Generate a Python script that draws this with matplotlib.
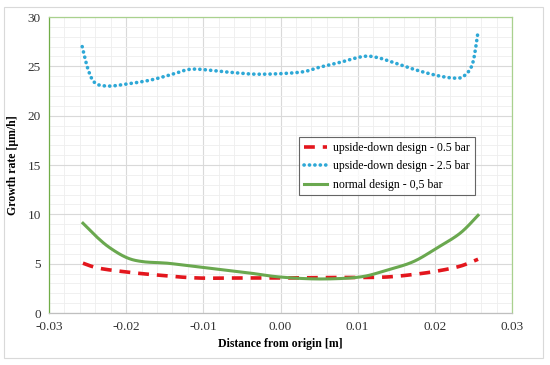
import matplotlib
matplotlib.use("Agg")
import matplotlib.pyplot as plt
import numpy as np
from matplotlib.ticker import MultipleLocator, FormatStrFormatter
from matplotlib.patches import Rectangle

plt.rcParams['font.family'] = ['Liberation Serif', 'DejaVu Serif']

# Data
x_blue = [-0.0257, -0.0249, -0.0240, -0.0223, -0.0200, -0.0169, -0.0140, -0.0117, -0.0090, -0.0066, -0.0027,
          0.0025, 0.0050, 0.0077, 0.0107, 0.0125, 0.0146, 0.0177, 0.0207, 0.0229, 0.0239, 0.0249, 0.0256]
y_blue = [27.0, 24.6, 23.3, 23.0, 23.2, 23.6, 24.2, 24.7, 24.6, 24.4, 24.2,
          24.4, 24.9, 25.4, 26.0, 25.9, 25.4, 24.6, 24.0, 23.8, 24.1, 25.3, 28.5]

x_green = [-0.0256, -0.0238, -0.0221, -0.0199, -0.0178, -0.0147, -0.0121, -0.0104, -0.0040, -0.0001, 0.0051,
           0.0103, 0.0138, 0.0172, 0.0203, 0.0233, 0.0256]
y_green = [9.1, 7.7, 6.6, 5.6, 5.2, 5.05, 4.8, 4.65, 4.05, 3.65, 3.45,
           3.65, 4.35, 5.2, 6.6, 8.1, 9.9]

x_red = [-0.0256, -0.0236, -0.0199, -0.0160, -0.0108, -0.0050, 0.0000, 0.0050, 0.0104, 0.0138, 0.0172,
         0.0203, 0.0233, 0.0256]
y_red = [5.05, 4.55, 4.15, 3.85, 3.55, 3.55, 3.55, 3.6, 3.6, 3.65, 3.9, 4.25, 4.75, 5.45]

labels = ['upside-down design - 0.5 bar', 'upside-down design - 2.5 bar', 'normal design - 0,5 bar']
xlabel = 'Distance from origin [m]'
ylabel = 'Growth rate [µm/h]'


def smooth(x, y):
    x = np.asarray(x); y = np.asarray(y)
    xs, ys = [], []
    pts = list(zip(x, y))
    P = [pts[0]] + pts + [pts[-1]]
    for i in range(1, len(P) - 2):
        p0, p1, p2, p3 = map(np.array, (P[i-1], P[i], P[i+1], P[i+2]))
        t = np.linspace(0, 1, 20, endpoint=False)[:, None]
        seg = 0.5 * ((2*p1) + (-p0 + p2)*t + (2*p0 - 5*p1 + 4*p2 - p3)*t**2 + (-p0 + 3*p1 - 3*p2 + p3)*t**3)
        xs.extend(seg[:, 0]); ys.extend(seg[:, 1])
    xs.append(x[-1]); ys.append(y[-1])
    return np.array(xs), np.array(ys)


fig = plt.figure(figsize=(5.5, 3.65), dpi=100)
fig.patches.append(Rectangle((4/550, 7/365), 539/550, 351/365, transform=fig.transFigure,
                             fill=False, edgecolor='#d9d9d9', linewidth=0.8))
ax = fig.add_axes([49/550, 1 - 313/365, 463/550, 296/365])

xr, yr = smooth(x_red, y_red)
xb, yb = smooth(x_blue, y_blue)
xg, yg = smooth(x_green, y_green)
ax.plot(xr, yr, color='#e3161d', linewidth=2.6, linestyle=(0, (3.0, 2.2)), label=labels[0], zorder=3)
ax.plot(xb, yb, color='#2ea8d6', linewidth=2.6, linestyle=(0, (0.05, 1.45)), dash_capstyle='round',
        label=labels[1], zorder=3)
ax.plot(xg, yg, color='#6aa84f', linewidth=2.2, label=labels[2], zorder=3)

ax.set_xlim(-0.03, 0.03)
ax.set_ylim(0, 30)
ax.xaxis.set_major_locator(MultipleLocator(0.01))
ax.xaxis.set_minor_locator(MultipleLocator(0.002))
ax.yaxis.set_major_locator(MultipleLocator(5))
ax.yaxis.set_minor_locator(MultipleLocator(1))
ax.xaxis.set_major_formatter(FormatStrFormatter('%.2f'))
ax.grid(which='major', color='#d9d9d9', linewidth=0.8)
ax.grid(which='minor', color='#eeeeee', linewidth=0.6)
ax.set_axisbelow(True)
ax.tick_params(which='both', length=0, labelsize=9.5, colors='#333333', pad=6)
for s in ax.spines.values():
    s.set_color('#a9d18e')
    s.set_linewidth(0.9)
ax.spines['left'].set_color('#70ad47')
ax.spines['bottom'].set_color('#bfbfbf')

ax.set_xlabel(xlabel, fontsize=8.5, fontweight='bold', labelpad=3)
ax.set_ylabel(ylabel, fontsize=8.5, fontweight='bold', labelpad=6)

leg = ax.legend(loc='upper left', bbox_to_anchor=((299-49)/463, (313-137)/296), fontsize=8.5,
                frameon=True, fancybox=False, edgecolor='#404040', handlelength=2.0,
                borderpad=0.4, labelspacing=0.55, handletextpad=0.5, borderaxespad=0)
leg.get_frame().set_linewidth(0.8)

fig.savefig('out.png', dpi=100)
